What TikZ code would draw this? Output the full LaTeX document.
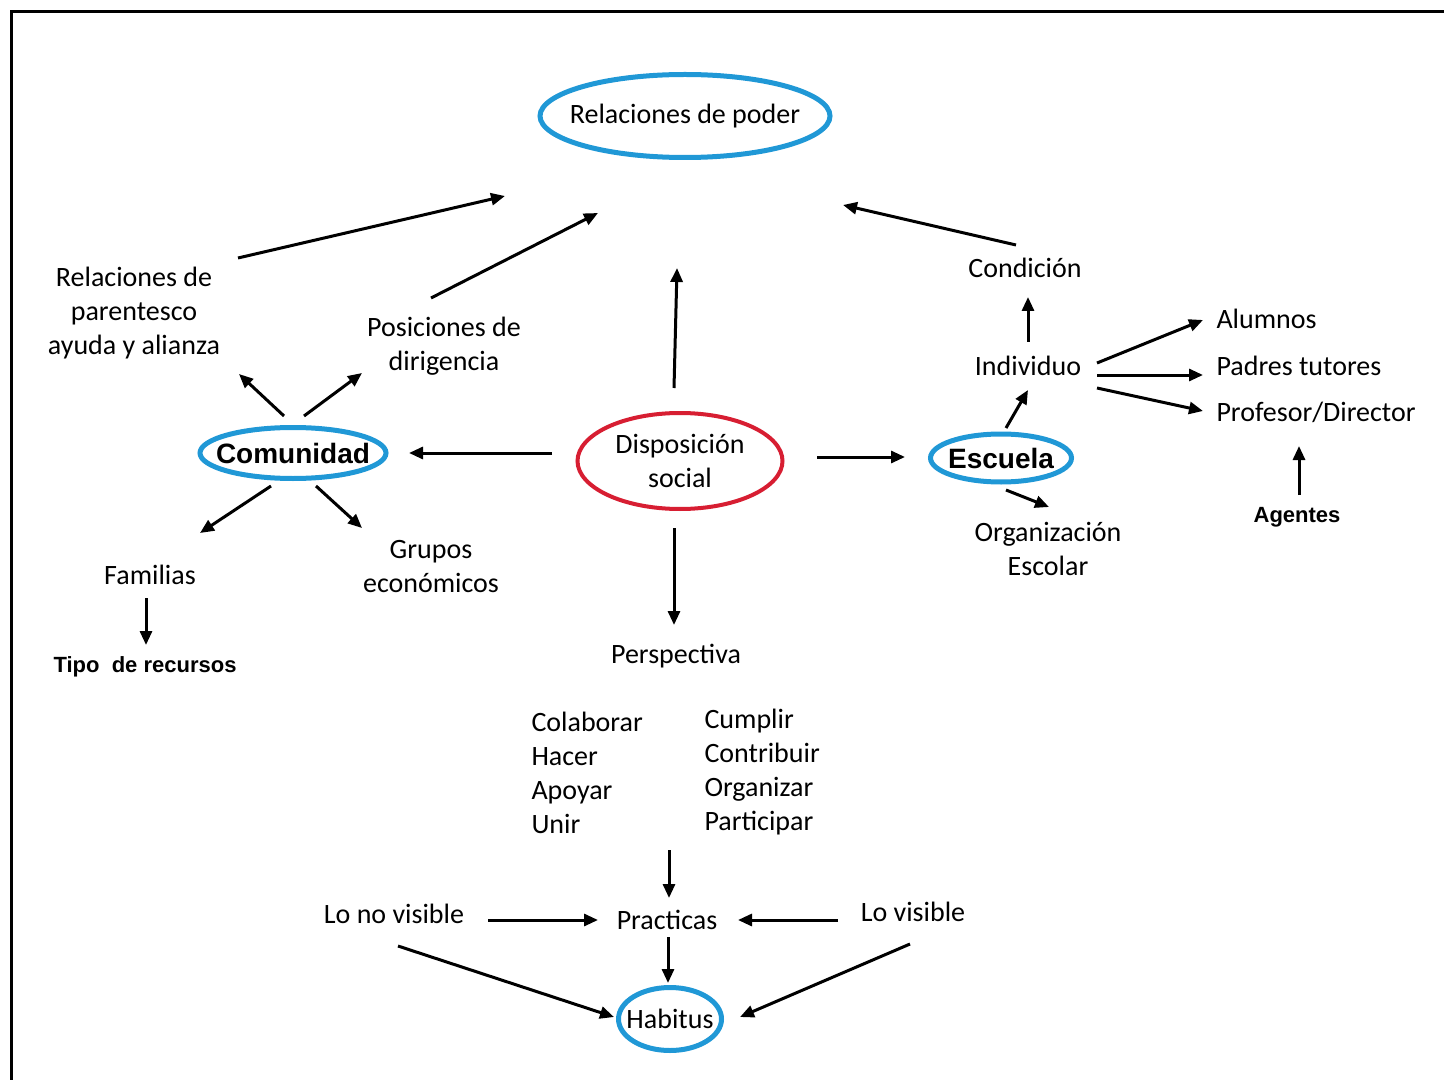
\documentclass[tikz,border=0pt]{standalone}
\usepackage{fontspec}
\setmainfont{Carlito}
\newfontfamily\headfont{Liberation Sans}
\usetikzlibrary{arrows.meta,shapes.geometric}
\definecolor{ringblue}{RGB}{32,152,214}
\definecolor{ringred}{RGB}{215,30,50}

\begin{document}
\begin{tikzpicture}[x=0.5pt, y=-0.5pt, line width=1.5pt,
    every node/.style={font=\fontsize{14}{17}\selectfont, inner sep=0pt, align=center},
    ring/.style={ellipse, draw=ringblue, line width=2.5pt, inner xsep=-20pt, inner ysep=0pt},
    head/.style={font=\headfont\bfseries\fontsize{14}{17}\selectfont},
    tag/.style={font=\headfont\bfseries\fontsize{11}{13}\selectfont},
    >={Triangle[length=7pt,width=6pt]}]
  \useasboundingbox (0,0) rectangle (1444,1080);
  \draw [line width=1.5pt] (11,1080) -- (11,12) -- (1444,12);

  \node [ring, minimum width=145pt, minimum height=41.5pt] (poder) at (685,116) {Relaciones de poder};
  \node [ring, draw=ringred, line width=2pt, minimum width=102.5pt, minimum height=48pt] (disp) at (680,461) {Disposición\\social};
  \node [ring, head, minimum width=93pt, minimum height=25.5pt] (comunidad) at (293,453) {Comunidad};
  \node [ring, head, minimum width=70.5pt, minimum height=24pt] (escuela) at (1001,458) {Escuela};
  \node [ring, minimum width=51.5pt, minimum height=31.5pt] (habitus) at (670,1019) {Habitus};

  \node (relparentesco) at (134,313) {Relaciones de\\parentesco\\ayuda y alianza};
  \node (posiciones) at (444,346) {Posiciones de\\dirigencia};
  \node (familias) at (150,575) {Familias};
  \node [tag] (tipo) at (145,667) {Tipo\ \ de recursos};
  \node (grupos) at (431,567) {Grupos\\económicos};
  \node (condicion) at (1025,268) {Condición};
  \node (individuo) at (1028,366) {Individuo};
  \node [anchor=west] (alumnos) at (1215,319) {Alumnos};
  \node [anchor=west] (padres) at (1215,366) {Padres tutores};
  \node [anchor=west] (profesor) at (1215,412) {Profesor/Director};
  \node [tag] (agentes) at (1297,517) {Agentes};
  \node (organizacion) at (1048,549) {Organización\\Escolar};
  \node (perspectiva) at (676,656) {Perspectiva};
  \node [anchor=west, align=left] (verbsa) at (530,773) {Colaborar\\Hacer\\Apoyar\\Unir};
  \node [anchor=west, align=left] (verbsb) at (703,772) {Cumplir\\Contribuir\\Organizar\\Participar};
  \node (practicas) at (667,920) {Practicas};
  \node (novisible) at (394,914) {Lo no visible};
  \node (visible) at (913,912) {Lo visible};

  \draw [->] ([shift={(104,-55)}]relparentesco.center) -- ([shift={(-180,80)}]poder.center);
  \draw [->] ([shift={(-13,-48)}]posiciones.center) -- ([shift={(-87,97)}]poder.center);
  \draw [->] ([shift={(-6,-73)}]disp.center) -- ([shift={(-8,152)}]poder.center);
  \draw [->] ([shift={(-9,-23)}]condicion.center) -- ([shift={(158,89)}]poder.center);
  \draw [->] ([shift={(0,-24)}]individuo.center) -- ([shift={(3,29)}]condicion.center);
  \draw [->] ([shift={(69,-3)}]individuo.center) -- ([shift={(-12,1)}]alumnos.west);
  \draw [->] ([shift={(69,9)}]individuo.center) -- ([shift={(-12,9)}]padres.west);
  \draw [->] ([shift={(69,22)}]individuo.center) -- ([shift={(-12,-1)}]profesor.west);
  \draw [->] ([shift={(2,-22)}]agentes.center) -- ([shift={(84,34)}]profesor.west);
  \draw [->] ([shift={(5,-30)}]escuela.center) -- ([shift={(0,24)}]individuo.center);
  \draw [->] ([shift={(5,32)}]escuela.center) -- ([shift={(1,-42)}]organizacion.center);
  \draw [->] ([shift={(137,-4)}]disp.center) -- ([shift={(-96,-1)}]escuela.center);
  \draw [->] ([shift={(-128,-8)}]disp.center) -- ([shift={(116,0)}]comunidad.center);
  \draw [->] ([shift={(-9,-37)}]comunidad.center) -- ([shift={(105,61)}]relparentesco.center);
  \draw [->] ([shift={(11,-37)}]comunidad.center) -- ([shift={(-82,27)}]posiciones.center);
  \draw [->] ([shift={(-22,33)}]comunidad.center) -- ([shift={(50,-42)}]familias.center);
  \draw [->] ([shift={(23,33)}]comunidad.center) -- ([shift={(-69,-39)}]grupos.center);
  \draw [->] ([shift={(-4,23)}]familias.center) -- ([shift={(1,-22)}]tipo.center);
  \draw [->] ([shift={(-6,67)}]disp.center) -- ([shift={(-2,-31)}]perspectiva.center);
  \draw [->] ([shift={(139,77)}]verbsa.west) -- ([shift={(2,-22)}]practicas.center);
  \draw [->] ([shift={(94,6)}]novisible.center) -- ([shift={(-69,0)}]practicas.center);
  \draw [->] ([shift={(-75,8)}]visible.center) -- ([shift={(71,0)}]practicas.center);
  \draw [->] ([shift={(1,17)}]practicas.center) -- ([shift={(-2,-36)}]habitus.center);
  \draw [->] ([shift={(4,32)}]novisible.center) -- ([shift={(-56,-2)}]habitus.center);
  \draw [->] ([shift={(-3,32)}]visible.center) -- ([shift={(70,-2)}]habitus.center);
\end{tikzpicture}
\end{document}
